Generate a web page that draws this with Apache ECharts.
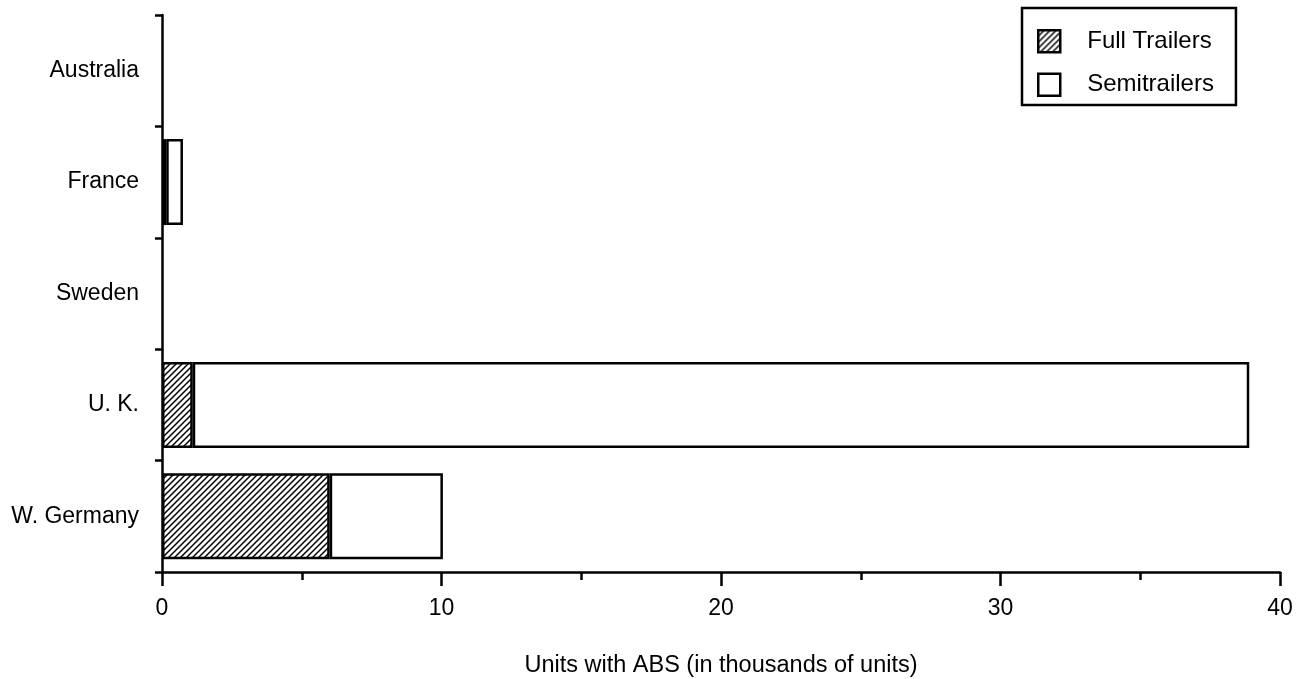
<!DOCTYPE html>
<html>
<head>
<meta charset="utf-8">
<script src="https://cdn.jsdelivr.net/npm/echarts@6/dist/echarts.min.js"></script>
<style>
html,body{margin:0;padding:0;background:#fff;}
#chart{width:1302px;height:679px;}
</style>
</head>
<body>
<div id="chart"></div>
<script>
const categories = ['Australia', 'France', 'Sweden', 'U. K.', 'W. Germany'];
const fullTrailers = [null, 0.15, null, 1.1, 6.0];
const semitrailers = [null, 0.6, null, 37.8, 4.05];
const xTicks = [0, 10, 20, 30, 40];

function hatch() {
  const s = 6;
  const c = document.createElement('canvas');
  c.width = s; c.height = s;
  const g = c.getContext('2d');
  g.fillStyle = '#fff';
  g.fillRect(0, 0, s, s);
  g.strokeStyle = '#000';
  g.lineWidth = 1.5;
  g.beginPath();
  g.moveTo(-1, s + 1); g.lineTo(s + 1, -1);
  g.moveTo(-1, 1); g.lineTo(1, -1);
  g.moveTo(s - 1, s + 1); g.lineTo(s + 1, s - 1);
  g.stroke();
  return c;
}

const chart = echarts.init(document.getElementById('chart'), null, {renderer: 'canvas'});
const font = 'Liberation Sans, Arial, Helvetica, sans-serif';
chart.setOption({
  animation: false,
  backgroundColor: '#fff',
  textStyle: {fontFamily: font, color: '#000'},
  grid: {left: 162, right: 22, top: 15, bottom: 107, containLabel: false, outerBoundsMode: 'none'},
  legend: {
    orient: 'vertical',
    left: 1022, top: 8,
    padding: [21, 22, 8, 15],
    itemGap: 19,
    itemWidth: 22, itemHeight: 22,
    borderColor: '#000', borderWidth: 2.5,
    backgroundColor: '#fff',
    icon: 'rect',
    itemStyle: {borderColor: '#000', borderWidth: 2.5},
    textStyle: {fontFamily: font, fontSize: 24, color: '#000', padding: [0, 0, 0, 22]},
    data: ['Full Trailers', 'Semitrailers']
  },
  xAxis: {
    type: 'value',
    min: 0, max: 40, interval: 10,
    name: 'Units with ABS (in thousands of units)',
    nameLocation: 'middle',
    nameGap: 82,
    nameTextStyle: {fontFamily: font, fontSize: 23.5, color: '#000'},
    axisLine: {show: true, lineStyle: {color: '#000', width: 2.5}},
    axisTick: {show: true, length: 14, lineStyle: {color: '#000', width: 2.5}},
    minorTick: {show: true, splitNumber: 2, length: 8, lineStyle: {color: '#000', width: 2.5}},
    splitLine: {show: false},
    axisLabel: {
      fontFamily: font, fontSize: 23, color: '#000', margin: 25,
      formatter: function (v) { return xTicks.indexOf(v) >= 0 ? String(v) : ''; }
    }
  },
  yAxis: {
    type: 'category',
    inverse: true,
    data: categories,
    axisLine: {show: true, lineStyle: {color: '#000', width: 2.5}},
    axisTick: {show: true, length: 7, interval: 0, lineStyle: {color: '#000', width: 2.5}},
    axisLabel: {fontFamily: font, fontSize: 23, color: '#000', margin: 23},
    splitLine: {show: false}
  },
  series: [
    {
      name: 'Full Trailers',
      type: 'bar',
      stack: 'total',
      barWidth: 86,
      data: fullTrailers,
      itemStyle: {color: {image: hatch(), repeat: 'repeat'}, borderColor: '#000', borderWidth: 2.5}
    },
    {
      name: 'Semitrailers',
      type: 'bar',
      stack: 'total',
      barWidth: 86,
      data: semitrailers,
      itemStyle: {color: '#fff', borderColor: '#000', borderWidth: 2.5}
    }
  ]
});
</script>
</body>
</html>
